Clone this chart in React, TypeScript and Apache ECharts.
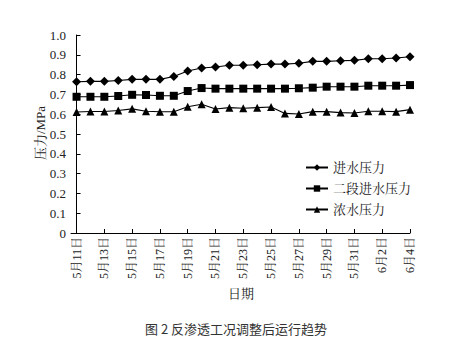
import React, { useEffect, useRef } from "react";
import * as echarts from "echarts";

const dates = [
  "5月11日", "5月12日", "5月13日", "5月14日", "5月15日", "5月16日", "5月17日",
  "5月18日", "5月19日", "5月20日", "5月21日", "5月22日", "5月23日", "5月24日",
  "5月25日", "5月26日", "5月27日", "5月28日", "5月29日", "5月30日", "5月31日",
  "6月1日", "6月2日", "6月3日", "6月4日",
];

const inletPressure = [
  0.764, 0.766, 0.766, 0.77, 0.776, 0.776, 0.776, 0.79, 0.818, 0.833, 0.838,
  0.847, 0.847, 0.85, 0.853, 0.853, 0.857, 0.867, 0.867, 0.87, 0.872, 0.88,
  0.88, 0.884, 0.89,
];
const secondStagePressure = [
  0.688, 0.688, 0.688, 0.692, 0.698, 0.697, 0.693, 0.693, 0.717, 0.732, 0.729,
  0.729, 0.729, 0.729, 0.729, 0.729, 0.731, 0.734, 0.739, 0.739, 0.739, 0.744,
  0.744, 0.744, 0.747,
];
const concentratePressure = [
  0.611, 0.614, 0.614, 0.619, 0.627, 0.615, 0.612, 0.612, 0.638, 0.65, 0.626,
  0.633, 0.63, 0.633, 0.636, 0.604, 0.601, 0.613, 0.613, 0.608, 0.606, 0.615,
  0.615, 0.613, 0.623,
];

const seriesNames = ["进水压力", "二段进水压力", "浓水压力"];
const yAxisName = "压力/MPa";
const xAxisName = "日期";
const caption = "图 2 反渗透工况调整后运行趋势";

const serif = "'Times New Roman', 'Liberation Serif', 'Noto Serif CJK SC', 'Noto Sans CJK SC', serif";

export default function App() {
  const ref = useRef<HTMLDivElement>(null);
  useEffect(() => {
    if (!ref.current) return;
    const chart = echarts.init(ref.current, null, { renderer: "svg" });
    const tickIdx = dates.map((_, i) => i).filter((i) => i % 2 === 0);
    const toPts = (arr: number[]) => arr.map((v, i) => [i, v]);
    const common = {
      type: "line" as const,
      color: "#000",
      lineStyle: { color: "#000", width: 1.1 },
      itemStyle: { color: "#000" },
      showSymbol: true,
    };
    chart.setOption({
      animation: false,
      backgroundColor: "#fff",
      grid: { left: 71, right: 42, top: 35, bottom: 125 },
      legend: {
        orient: "vertical",
        left: 300,
        top: 156,
        itemWidth: 22,
        itemHeight: 8,
        itemGap: 8,
        textStyle: { fontFamily: serif, fontSize: 13, color: "#222" },
        data: seriesNames,
      },
      xAxis: {
        type: "value",
        min: -0.4,
        max: 24,
        splitLine: { show: false },
        axisLine: { lineStyle: { color: "#000", width: 1 } },
        axisTick: {
          inside: true,
          length: 4,
          customValues: tickIdx,
          lineStyle: { color: "#000" },
        },
        axisLabel: {
          customValues: tickIdx,
          rotate: 90,
          margin: 4,
          fontFamily: serif,
          fontSize: 12,
          color: "#222",
          formatter: (v: number) => dates[Math.round(v)] ?? "",
        },
      },
      yAxis: {
        type: "value",
        min: 0,
        max: 1,
        interval: 0.1,
        splitLine: { show: false },
        axisLine: { show: true, lineStyle: { color: "#000", width: 1 } },
        axisTick: { show: true, inside: true, length: 4, lineStyle: { color: "#000" } },
        axisLabel: {
          fontFamily: serif,
          fontSize: 13,
          color: "#222",
          margin: 5,
          formatter: (v: number) => (v === 0 ? "0" : v.toFixed(1)),
        },
      },
      graphic: [
        {
          type: "text",
          x: 40,
          y: 133,
          rotation: Math.PI / 2,
          style: {
            text: yAxisName,
            font: `13px ${serif}`,
            fill: "#222",
            align: "center",
            verticalAlign: "middle",
          },
        },
        {
          type: "text",
          x: 241,
          y: 293,
          style: {
            text: xAxisName,
            font: `13px ${serif}`,
            fill: "#222",
            align: "center",
            verticalAlign: "middle",
          },
        },
        {
          type: "text",
          x: 236,
          y: 328,
          style: {
            text: caption,
            font: "13px 'Noto Sans CJK SC', sans-serif",
            fill: "#333",
            align: "center",
            verticalAlign: "middle",
          },
        },
      ],
      series: [
        { ...common, name: seriesNames[0], symbol: "diamond", symbolSize: 9, data: toPts(inletPressure) },
        { ...common, name: seriesNames[1], symbol: "rect", symbolSize: 8, data: toPts(secondStagePressure) },
        { ...common, name: seriesNames[2], symbol: "triangle", symbolSize: 8, data: toPts(concentratePressure) },
      ],
    });
    return () => chart.dispose();
  }, []);
  return (
    <div
      ref={ref}
      style={{ position: "fixed", left: 0, top: 0, width: 452, height: 358 }}
    />
  );
}
